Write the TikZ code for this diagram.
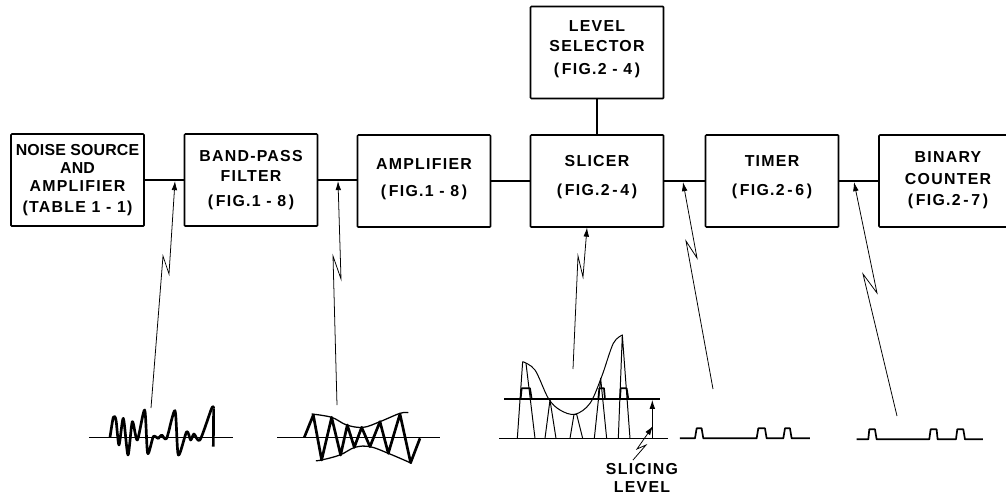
\documentclass[tikz,border=0pt]{standalone}
\usepackage{fontspec}
\setmainfont{Liberation Sans}
\newfontfamily\blockfont[LetterSpace=8.0]{Liberation Sans}
\newfontfamily\tightfont[LetterSpace=1.0]{Liberation Sans}
\usetikzlibrary{arrows.meta,positioning,calc}
\tikzset{
  >={Latex[length=6.5pt,width=4pt]},
  block/.style={draw,line width=1.1pt,rounded corners=0.6pt,minimum width=133\punit,
    minimum height=92\punit,inner sep=0pt,align=center,
    font=\blockfont\bfseries\fontsize{11.3}{12.8}\selectfont},
  wire/.style={line width=1.1pt},
  tap/.style={line width=0.55pt,->},
  axisline/.style={line width=0.7pt},
  trace/.style={line width=1.9pt,line join=round},
  thintrace/.style={line width=0.7pt,line join=round},
  pulse/.style={line width=1.2pt,line join=round},
  caption/.style={font=\blockfont\bfseries\fontsize{11.3}{12.8}\selectfont,align=center,inner sep=0pt},
}
\newlength{\punit}
\setlength{\punit}{0.25mm}
\newcommand{\lowstrut}[1]{\rule[-#1pt]{0pt}{0pt}}
\newcommand{\figref}[1]{(\,FIG.#1\,)}

\begin{document}
\begin{tikzpicture}[x=0.25mm,y=-0.25mm]
\path[use as bounding box,clip] (0,0) rectangle (1006,497);

% ================= BLOCKS =================
\node[block] (noise) at (77.5,180) {{\tightfont\bfseries NOISE SOURCE}\\{\tightfont\bfseries AND}\\AMPLIFIER\\[2pt](TABLE 1\ -\ 1)};
\node[block] (band) at (251,180) {BAND-PASS\\[1.4pt]FILTER\\[5pt]\figref{1\ -\ 8}};
\node[block] (amp) at (424,181) {AMPLIFIER\\[6.4pt]\figref{1\ -\ 8}\lowstrut{5}};
\node[block] (slicer) at (597,181) {SLICER\\[7.8pt]\figref{2\,-\,4}\lowstrut{8}};
\node[block] (level) at (597,52.5) {LEVEL\\[2pt]SELECTOR\\[3.6pt]\figref{2\ -\ 4}\lowstrut{7}};
\node[block] (timer) at (772,181) {TIMER\\[7.8pt]\figref{2\,-\,6}\lowstrut{8}};
\node[block,minimum width=138\punit] (counter) at (948,181) {BINARY\\[2.8pt]COUNTER\\[2.1pt]\figref{2\,-\,7}\lowstrut{4}};
\draw[wire] (noise.east) -- (band.west);
\draw[wire] (band.east) -- (band.east -| amp.west);
\draw[wire] (amp.east) -- (slicer.west);
\draw[wire] (slicer.east) -- (timer.west);
\draw[wire] (timer.east) -- (counter.west);
\draw[wire] (level.south) -- (slicer.north);

% ================= TEST POINT ARROWS =================
\coordinate (tapA) at (175,181);
\coordinate (tapB) at (338,181);
\coordinate (tapC) at (587,227.5);
\coordinate (tapD) at (683,182);
\coordinate (tapE) at (854,182);
\coordinate (waveA) at (151,408);
\coordinate (waveB) at (337,405);
\coordinate (waveC) at (573,369);
\coordinate (waveD) at (713,389);
\coordinate (waveE) at (897,416);
\draw[tap] (waveA) -- (163,256) -- (169,274) -- (tapA);
\draw[tap] (waveB) -- (333,256) -- (341,279) -- (tapB);
\draw[tap] (waveC) -- (578,256) -- (583,277) -- (tapC);
\draw[tap] (waveD) -- (686,241) -- (697,258) -- (tapD);
\draw[tap] (waveE) -- (863,274) -- (877,293) -- (tapE);

% ================= NOISE AND FILTERED WAVEFORMS =================
\begin{scope}[shift={(60,340)},scale=0.3333]
\draw[axisline] (87,292) -- (520,292);
\draw[trace] plot[smooth,tension=0.45] coordinates {(150,292) (160,232) (168,240) (177,315) (190,235)
  (204,345) (217,245) (232,300) (254,210) (263,340) (280,290) (295,295) (305,285) (320,295)
  (345,212) (355,345) (380,275) (392,300) (402,282) (420,300) (455,205) (461,205)};
\draw[trace] (461,205) -- (460,320);
\draw[axisline] (652,293) -- (1140,293);
\draw[trace] (733,292) -- (760,225) -- (785,360) -- (815,232) -- (842,345) -- (862,255) -- (883,322)
  -- (905,262) -- (930,320) -- (960,245) -- (985,340) -- (1020,222) -- (1052,368) -- (1080,295);
\draw[line width=0.9pt] plot[smooth,tension=0.6] coordinates {(755,222) (815,232) (860,255) (910,262)
  (960,245) (1020,220) (1045,218)};
\draw[line width=0.9pt] plot[smooth,tension=0.6] coordinates {(768,362) (785,360) (840,345) (885,322)
  (930,320) (985,340) (1055,370)};
\end{scope}

% ================= SLICED WAVEFORM AND PULSES =================
\begin{scope}[shift={(480,320)},scale=0.3333]
\draw[axisline] (58,355) -- (565,355);
\draw[line width=1.5pt] (72,237) -- (540,237);
\draw[thintrace] plot[smooth,tension=0.55] coordinates {(128,125) (165,150) (205,235) (240,270) (285,283)
  (330,250) (365,170) (400,70) (428,45)};
\draw[thintrace] (112,355) -- (128,125) (138,130) -- (165,355);
\draw[thintrace] (195,355) -- (210,240) -- (228,355);
\draw[thintrace] (270,355) -- (282,283) -- (290,283) -- (308,355);
\draw[thintrace] (343,355) -- (362,175) -- (380,355);
\draw[thintrace] (415,355) -- (427,45) -- (450,355);
\draw[pulse] (122,237) -- (125,205) -- (150,205) -- (155,237);
\draw[pulse] (355,237) -- (358,205) -- (372,205) -- (375,237);
\draw[pulse] (420,237) -- (422,205) -- (440,205) -- (445,237);
\draw[line width=0.7pt,->] (517,355) -- (517,239);
\draw[pulse] (600,355) -- (645,355) -- (650,325) -- (665,325) -- (670,355) -- (830,355) -- (835,325)
  -- (855,325) -- (860,355) -- (910,355) -- (915,325) -- (930,325) -- (935,355) -- (990,355);
\draw[pulse] (1130,358) -- (1165,358) -- (1168,328) -- (1185,328) -- (1190,358) -- (1348,358) -- (1352,328)
  -- (1370,328) -- (1373,358) -- (1428,358) -- (1432,328) -- (1450,328) -- (1455,358) -- (1509,358);
\end{scope}

% ================= SLICING LEVEL LABEL =================
\node[caption] (slicing) at (642,478) {SLICING\\LEVEL};
\coordinate (levelTip) at (653,426);
\draw[tap] (633,460) -- (646,445) -- (637,449) -- (levelTip);

\end{tikzpicture}
\end{document}
